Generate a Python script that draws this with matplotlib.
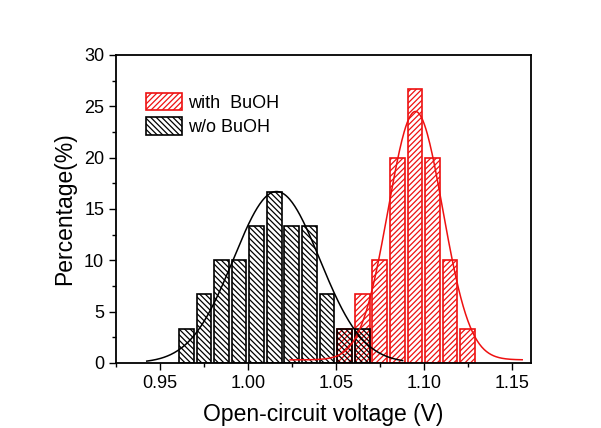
import matplotlib
matplotlib.use("Agg")
import matplotlib.pyplot as plt
import numpy as np

plt.rcParams['font.family'] = ['Liberation Sans', 'DejaVu Sans']
plt.rcParams['hatch.linewidth'] = 0.9

# histogram bins (bin centres, V) and percentages
wo_v = [0.965, 0.975, 0.985, 0.995, 1.005, 1.015, 1.025, 1.035, 1.045, 1.055, 1.065]
wo_pct = [3.33, 6.67, 10.0, 10.0, 13.33, 16.67, 13.33, 13.33, 6.67, 3.33, 3.33]
with_v = [1.055, 1.065, 1.075, 1.085, 1.095, 1.105, 1.115, 1.125]
with_pct = [3.33, 6.67, 10.0, 20.0, 26.67, 20.0, 10.0, 3.33]

# gaussian fit parameters: centre, sigma, amplitude, offset, x-range
wo_fit = dict(xc=1.0163, w=0.0245, A=16.7, y0=0.0, lo=0.9425, hi=1.088)
with_fit = dict(xc=1.0953, w=0.0155, A=24.2, y0=0.3, lo=1.024, hi=1.156)

red = '#ee1111'
bar_w = 0.0084

fig = plt.figure(figsize=(6.01, 4.28), dpi=100)
ax = fig.add_axes([0.193, 0.152, 0.6905, 0.7195])

ax.bar(with_v, with_pct, width=bar_w, fill=False, edgecolor=red, hatch='//////',
       linewidth=1.2, label='with  BuOH')
ax.bar(wo_v, wo_pct, width=bar_w, fill=False, edgecolor='black', hatch='\\\\\\\\\\\\',
       linewidth=1.2, label='w/o BuOH')

for f, c in [(with_fit, red), (wo_fit, 'black')]:
    x = np.linspace(f['lo'], f['hi'], 300)
    y = f['y0'] + f['A'] * np.exp(-(x - f['xc'])**2 / (2 * f['w']**2))
    ax.plot(x, y, color=c, lw=1.1)

ax.set_xlim(0.929, 1.161)
ax.set_ylim(0, 30)
ax.set_xticks([0.95, 1.00, 1.05, 1.10, 1.15])
ax.set_xticklabels(['0.95', '1.00', '1.05', '1.10', '1.15'])
ax.set_xticks(np.arange(0.925, 1.16, 0.025), minor=True)
ax.set_yticks(range(0, 31, 5))
ax.set_yticks(np.arange(0, 30.1, 2.5), minor=True)
ax.tick_params(which='both', direction='out', labelsize=13, width=1.0)
ax.tick_params(which='major', length=5)
ax.tick_params(which='minor', length=3)
for s in ax.spines.values():
    s.set_linewidth(1.3)

ax.set_xlabel('Open-circuit voltage (V)', fontsize=16.5, labelpad=8)
ax.set_ylabel('Percentage(%)', fontsize=16.5, labelpad=6)

ax.legend(loc='upper left', bbox_to_anchor=(0.055, 0.9), frameon=False, fontsize=13,
          handlelength=2.0, handleheight=1.1, handletextpad=0.3, labelspacing=0.3,
          borderaxespad=0)

fig.savefig('out.png', dpi=100)
